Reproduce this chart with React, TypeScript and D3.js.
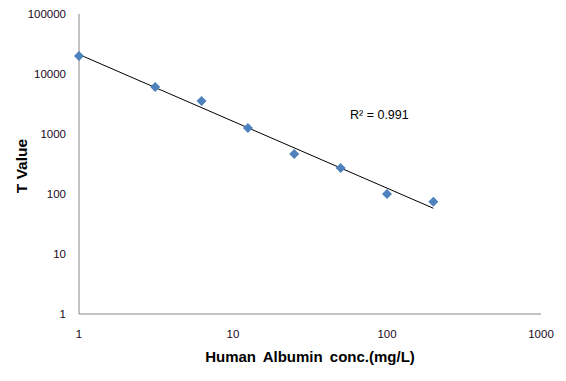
import React, { useEffect, useRef } from "react";
import * as d3 from "d3";

const concentrations = [1, 3.125, 6.25, 12.5, 25, 50, 100, 200];
const tValues = [20000, 6050, 3550, 1260, 465, 272, 100, 74];
const xTicks = [1, 10, 100, 1000];
const yTicks = [1, 10, 100, 1000, 10000, 100000];
const rSquaredLabel = "R² = 0.991";

const W = 566;
const H = 381;
const FONT = "Liberation Sans, Arial, sans-serif";

const App: React.FC = () => {
  const svgRef = useRef<SVGSVGElement | null>(null);

  useEffect(() => {
    if (!svgRef.current) return;
    const svg = d3.select(svgRef.current);
    svg.selectAll("*").remove();

    const x = d3.scaleLog().domain([1, 1000]).range([79, 541]);
    const y = d3.scaleLog().domain([1, 100000]).range([314, 14]);

    // axis lines
    svg.append("line")
      .attr("x1", x(1)).attr("x2", x(1))
      .attr("y1", y(100000)).attr("y2", y(1))
      .attr("stroke", "#868686");
    svg.append("line")
      .attr("x1", x(1)).attr("x2", x(1000))
      .attr("y1", y(1)).attr("y2", y(1))
      .attr("stroke", "#868686");

    // tick labels
    svg.append("g")
      .selectAll("text")
      .data(yTicks)
      .join("text")
      .attr("x", 66)
      .attr("y", (d) => y(d) + 4)
      .attr("text-anchor", "end")
      .attr("font-family", FONT)
      .attr("font-size", 11.5)
      .attr("fill", "#1a0a1a")
      .text((d) => String(d));

    svg.append("g")
      .selectAll("text")
      .data(xTicks)
      .join("text")
      .attr("x", (d) => x(d))
      .attr("y", 338)
      .attr("text-anchor", "middle")
      .attr("font-family", FONT)
      .attr("font-size", 11.5)
      .attr("fill", "#1a0a1a")
      .text((d) => String(d));

    // power trendline from log-log regression
    const pts = concentrations.map((c, i) => [Math.log10(c), Math.log10(tValues[i])]);
    const mx = d3.mean(pts, (p) => p[0]) as number;
    const my = d3.mean(pts, (p) => p[1]) as number;
    const sxy = d3.sum(pts, (p) => (p[0] - mx) * (p[1] - my));
    const sxx = d3.sum(pts, (p) => (p[0] - mx) ** 2);
    const slope = sxy / sxx;
    const intercept = my - slope * mx;
    const fit = (c: number) => Math.pow(10, intercept + slope * Math.log10(c));
    const xMin = d3.min(concentrations) as number;
    const xMax = d3.max(concentrations) as number;
    svg.append("line")
      .attr("x1", x(xMin)).attr("y1", y(fit(xMin)))
      .attr("x2", x(xMax)).attr("y2", y(fit(xMax)))
      .attr("stroke", "#000")
      .attr("stroke-width", 1);

    // markers
    const diamond = d3.symbol().type(d3.symbolDiamond2).size(64);
    svg.append("g")
      .selectAll("path")
      .data(concentrations)
      .join("path")
      .attr("d", diamond)
      .attr("transform", (d, i) => `translate(${x(d)},${y(tValues[i])})`)
      .attr("fill", "#4F81BD");

    svg.append("text")
      .attr("x", 350)
      .attr("y", 119)
      .attr("font-family", FONT)
      .attr("font-size", 12.5)
      .attr("fill", "#000")
      .text(rSquaredLabel);

    // axis titles
    svg.append("text")
      .attr("x", 310)
      .attr("y", 362)
      .attr("text-anchor", "middle")
      .attr("font-family", FONT)
      .attr("font-size", 15)
      .attr("font-weight", "bold")
      .attr("word-spacing", 3)
      .attr("fill", "#000")
      .text("Human Albumin conc.(mg/L)");

    svg.append("text")
      .attr("transform", "translate(27,166) rotate(-90)")
      .attr("text-anchor", "middle")
      .attr("font-family", FONT)
      .attr("font-size", 15.5)
      .attr("font-weight", "bold")
      .attr("fill", "#000")
      .text("T Value");
  }, []);

  return (
    <svg
      ref={svgRef}
      width={W}
      height={H}
      style={{ position: "absolute", left: 0, top: 0, background: "#fff" }}
    />
  );
};

export default App;
